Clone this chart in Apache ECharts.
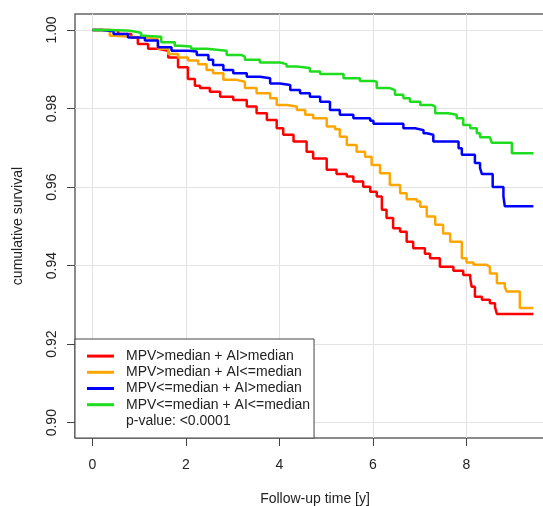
<!DOCTYPE html>
<html>
<head>
<meta charset="utf-8">
<style>
html,body{margin:0;padding:0;background:#fff;}
#chart{width:543px;height:506px;}
</style>
<script src="https://cdn.jsdelivr.net/npm/echarts@6/dist/echarts.min.js"></script>
</head>
<body>
<div id="chart"></div>
<script>
// ---- data ----
const seriesNames = [
  'MPV>median + AI>median',
  'MPV>median + AI<=median',
  'MPV<=median + AI>median',
  'MPV<=median + AI<=median'
];
const pValueText = 'p-value: <0.0001';
const xTicks = [0, 2, 4, 6, 8];
const yTicks = [0.90, 0.92, 0.94, 0.96, 0.98, 1.00];

const redTime = [0,0.33,0.55,0.83,0.97,1.19,1.40,1.62,1.83,2.04,2.19,2.30,2.51,2.73,3.01,3.30,3.51,3.73,3.94,4.08,4.30,4.58,4.72,5.01,5.22,5.44,5.58,5.79,5.94,6.08,6.19,6.29,6.43,6.58,6.72,6.86,7.11,7.22,7.43,7.72,7.93,8.08,8.11,8.18,8.33,8.50,8.61,8.65,9.43];
const redSurv = [1,0.9999,0.9990,0.9981,0.9964,0.9952,0.9947,0.9930,0.9905,0.9875,0.9858,0.9852,0.9843,0.9830,0.9822,0.9805,0.9788,0.9771,0.9750,0.9733,0.9716,0.9690,0.9673,0.9644,0.9633,0.9627,0.9614,0.9601,0.9588,0.9576,0.9542,0.9521,0.9495,0.9486,0.9461,0.9444,0.9430,0.9419,0.9397,0.9387,0.9376,0.9368,0.9346,0.9321,0.9313,0.9304,0.9294,0.9277,0.9277];

const orangeTime = [0,0.19,0.37,0.48,1.12,1.40,1.62,1.83,2.04,2.26,2.44,2.58,2.80,3.08,3.26,3.51,3.80,3.94,4.15,4.37,4.55,4.72,5.01,5.19,5.29,5.44,5.65,5.83,5.97,6.15,6.36,6.58,6.72,6.94,7.01,7.15,7.33,7.50,7.65,7.90,8.00,8.15,8.43,8.50,8.65,8.82,8.86,9.14,9.43];
const orangeSurv = [1,0.9999,0.9985,0.9981,0.9977,0.9952,0.9939,0.9930,0.9922,0.9913,0.9898,0.9890,0.9873,0.9868,0.9852,0.9839,0.9826,0.9809,0.9805,0.9796,0.9784,0.9775,0.9754,0.9747,0.9728,0.9707,0.9690,0.9677,0.9656,0.9635,0.9605,0.9584,0.9569,0.9563,0.9550,0.9525,0.9504,0.9482,0.9461,0.9419,0.9408,0.9402,0.9397,0.9380,0.9355,0.9345,0.9334,0.9292,0.9292];

const blueTime = [0,0.19,0.45,0.76,1.12,1.40,1.69,2.05,2.23,2.48,2.58,2.80,3.01,3.30,3.58,3.80,4.01,4.23,4.44,4.65,4.87,5.08,5.29,5.58,5.94,6.01,6.65,6.90,7.08,7.15,7.29,7.83,7.90,8.18,8.29,8.33,8.56,8.79,8.82,9.43];
const blueSurv = [1,0.9997,0.9990,0.9981,0.9973,0.9956,0.9947,0.9945,0.9936,0.9924,0.9911,0.9898,0.9890,0.9881,0.9877,0.9864,0.9860,0.9847,0.9839,0.9830,0.9817,0.9796,0.9784,0.9775,0.9769,0.9761,0.9750,0.9745,0.9737,0.9733,0.9716,0.9699,0.9682,0.9661,0.9648,0.9633,0.9600,0.9576,0.9551,0.9551];

const greenTime = [0,0.37,0.69,0.80,1.04,1.16,1.47,1.76,1.87,2.11,2.44,2.87,3.19,3.26,3.58,4.01,4.15,4.37,4.65,4.87,5.37,5.72,6.01,6.08,6.36,6.47,6.65,6.79,7.01,7.26,7.33,7.61,7.79,7.93,8.08,8.22,8.29,8.50,8.54,8.97,9.43];
const greenSurv = [1,0.9999,0.9998,0.9993,0.9985,0.9983,0.9969,0.9960,0.9958,0.9952,0.9947,0.9936,0.9932,0.9924,0.9917,0.9913,0.9907,0.9903,0.9894,0.9888,0.9877,0.9870,0.9868,0.9852,0.9847,0.9835,0.9826,0.9817,0.9809,0.9805,0.9788,0.9784,0.9775,0.9758,0.9750,0.9737,0.9727,0.9724,0.9713,0.9686,0.9686];

const colors = ['#ff0000', '#ffa500', '#0000ff', '#1edc1e'];
const curves = [[redTime, redSurv], [orangeTime, orangeSurv], [blueTime, blueSurv], [greenTime, greenSurv]];

// ---- chart ----
const FONT = 'Liberation Sans, Arial, sans-serif';
const TXT = '#222';
const chart = echarts.init(document.getElementById('chart'), null, {renderer: 'canvas'});

const series = curves.map((c, i) => ({
  name: seriesNames[i],
  type: 'line',
  step: 'end',
  symbol: 'none',
  silent: true,
  animation: false,
  color: colors[i],
  lineStyle: {color: colors[i], width: 2.5},
  data: c[0].map((t, k) => [t, c[1][k]])
}));
series.push({name: pValueText, type: 'line', data: [], symbol: 'none', color: 'rgba(0,0,0,0)', lineStyle: {opacity: 0}});

const legendData = seriesNames.map((n, i) => ({name: n, itemStyle: {color: colors[i]}}));
legendData.push({name: pValueText, itemStyle: {color: 'rgba(0,0,0,0)'}});

chart.setOption({
  backgroundColor: '#fff',
  animation: false,
  textStyle: {fontFamily: FONT},
  grid: {
    left: 75, top: 14, width: 480, height: 424,
    containLabel: false, outerBoundsMode: 'none',
    show: true, borderColor: '#666', borderWidth: 1.5, backgroundColor: 'transparent'
  },
  xAxis: {
    type: 'value', min: -0.374, max: 9.893,
    name: 'Follow-up time [y]', nameLocation: 'middle', nameGap: 54,
    nameTextStyle: {fontFamily: FONT, fontSize: 14, color: TXT},
    axisLine: {show: false, onZero: false},
    axisTick: {show: true, customValues: xTicks, length: 8, lineStyle: {color: '#444', width: 1}},
    axisLabel: {customValues: xTicks, fontFamily: FONT, fontSize: 14, color: TXT, margin: 20},
    splitLine: {show: true, lineStyle: {color: '#e3e3e3', width: 1}}
  },
  yAxis: {
    type: 'value', min: 0.8961, max: 1.00407,
    name: 'cumulative survival', nameLocation: 'middle', nameGap: 50, nameRotate: 90,
    nameTextStyle: {fontFamily: FONT, fontSize: 14, color: TXT},
    axisLine: {show: false, onZero: false},
    axisTick: {show: true, customValues: yTicks, length: 8, lineStyle: {color: '#444', width: 1}},
    axisLabel: {customValues: yTicks, rotate: 90, fontFamily: FONT, fontSize: 14, color: TXT, margin: 16,
      formatter: v => v.toFixed(2)},
    splitLine: {show: true, lineStyle: {color: '#e3e3e3', width: 1}}
  },
  legend: {
    orient: 'vertical', left: 75, top: 339,
    padding: [9, 4, 9, 12],
    itemGap: 0, itemWidth: 27, itemHeight: 3, icon: 'rect',
    backgroundColor: '#fff', borderColor: '#444', borderWidth: 1,
    selectedMode: false,
    textStyle: {fontFamily: FONT, fontSize: 14, color: TXT, lineHeight: 16.2, padding: [0, 0, 0, 7]},
    data: legendData
  },
  series: series
});
</script>
</body>
</html>
